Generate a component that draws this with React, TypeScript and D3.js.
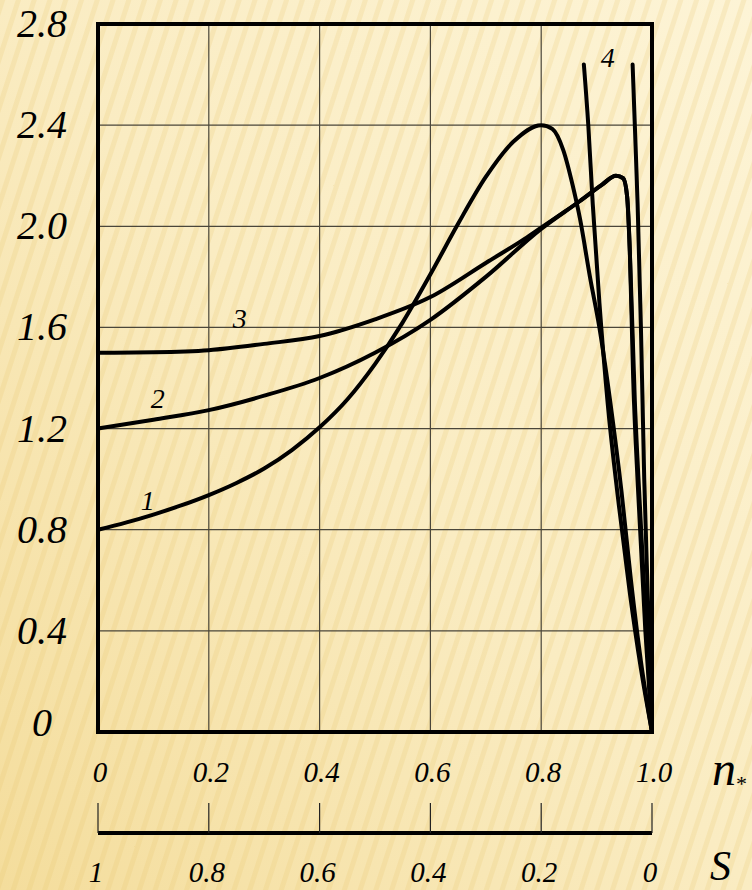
import { useEffect, useRef } from "react";
import * as d3 from "d3";

// n* axis ticks (top scale) and S axis labels (bottom scale, reversed)
const nTicks = [0, 0.2, 0.4, 0.6, 0.8, 1.0];
const nTickLabels = ["0", "0.2", "0.4", "0.6", "0.8", "1.0"];
const sTickLabels = ["1", "0.8", "0.6", "0.4", "0.2", "0"];
const yTicks = [0, 0.4, 0.8, 1.2, 1.6, 2.0, 2.4, 2.8];
const yTickLabels = ["0", "0.4", "0.8", "1.2", "1.6", "2.0", "2.4", "2.8"];

// curves: [n*, value]
const curve1 = [
  [0, 0.8], [0.05, 0.828], [0.1, 0.86], [0.15, 0.896], [0.2, 0.937],
  [0.25, 0.985], [0.3, 1.042], [0.35, 1.115], [0.4, 1.205], [0.45, 1.315],
  [0.5, 1.455], [0.55, 1.62], [0.6, 1.81], [0.65, 2.01], [0.7, 2.195],
  [0.75, 2.335], [0.8, 2.4], [0.82, 2.385], [0.84, 2.3], [0.857, 2.16],
  [0.87, 2.03], [0.888, 1.8], [0.905, 1.6], [0.925, 1.3], [0.945, 0.95],
  [0.962, 0.6], [0.98, 0.28], [1.0, 0],
];
const curve2 = [
  [0, 1.2], [0.1, 1.235], [0.2, 1.273], [0.3, 1.33], [0.4, 1.4],
  [0.5, 1.5], [0.6, 1.63], [0.7, 1.8], [0.8, 1.99], [0.87, 2.1],
  [0.91, 2.165], [0.935, 2.2], [0.948, 2.19], [0.955, 2.12], [0.96, 1.9],
  [0.969, 1.31], [0.978, 0.9], [0.99, 0.4], [1.0, 0],
];
const curve3 = [
  [0, 1.5], [0.1, 1.502], [0.2, 1.51], [0.3, 1.535], [0.4, 1.566],
  [0.5, 1.632], [0.6, 1.72], [0.7, 1.855], [0.77, 1.95], [0.8, 1.995],
  [0.87, 2.1], [0.91, 2.165], [0.935, 2.2], [0.948, 2.19], [0.955, 2.12],
  [0.96, 1.9], [0.966, 1.4], [0.975, 0.95], [0.988, 0.4], [1.0, 0],
];
const curve4a = [
  [0.877, 2.64], [0.885, 2.4], [0.893, 2.09], [0.905, 1.7], [0.92, 1.3],
  [0.94, 0.9], [0.96, 0.55], [0.98, 0.25], [1.0, 0],
];
const curve4b = [
  [0.965, 2.64], [0.969, 2.4], [0.974, 2.09], [0.98, 1.6], [0.986, 1.0],
  [0.993, 0.5], [1.0, 0],
];
const curves = [curve1, curve2, curve3, curve4a, curve4b];
const curveLabels = [
  { text: "1", n: 0.09, v: 0.917 },
  { text: "2", n: 0.108, v: 1.321 },
  { text: "3", n: 0.256, v: 1.637 },
  { text: "4", n: 0.92, v: 2.67 },
];

const FONT = "'Liberation Serif', 'Times New Roman', serif";

const Chart = () => {
  const ref = useRef(null);

  useEffect(() => {
    const svg = d3.select(ref.current).attr("width", 752).attr("height", 890);
    svg.selectAll("*").remove();

    const left = 98, right = 652, top = 24, bottom = 732;
    const x = d3.scaleLinear().domain([0, 1]).range([left, right]);
    const y = d3.scaleLinear().domain([0, 2.8]).range([bottom, top]);

    // background: cream gradient with slanted stripes
    const defs = svg.append("defs");
    const grad = defs
      .append("linearGradient")
      .attr("id", "bg")
      .attr("x1", "0")
      .attr("y1", "1")
      .attr("x2", "1")
      .attr("y2", "0");
    grad.append("stop").attr("offset", "0").attr("stop-color", "#f4dd9c");
    grad.append("stop").attr("offset", "0.5").attr("stop-color", "#faecc2");
    grad.append("stop").attr("offset", "1").attr("stop-color", "#fdf4d6");
    const pat = defs
      .append("pattern")
      .attr("id", "stripes")
      .attr("width", 15)
      .attr("height", 15)
      .attr("patternUnits", "userSpaceOnUse")
      .attr("patternTransform", "rotate(18)");
    pat
      .append("rect")
      .attr("width", 5)
      .attr("height", 15)
      .attr("fill", "#e6c26a")
      .attr("opacity", 0.2);

    svg.append("rect").attr("width", 752).attr("height", 890).attr("fill", "url(#bg)");
    svg.append("rect").attr("width", 752).attr("height", 890).attr("fill", "url(#stripes)");

    // grid
    const grid = svg.append("g").attr("stroke", "#4a463a").attr("stroke-width", 1.2);
    nTicks.slice(1, -1).forEach((t) => {
      grid.append("line").attr("x1", x(t)).attr("x2", x(t)).attr("y1", top).attr("y2", bottom);
    });
    yTicks.slice(1, -1).forEach((t) => {
      grid.append("line").attr("x1", left).attr("x2", right).attr("y1", y(t)).attr("y2", y(t));
    });

    // curves
    const line = d3
      .line()
      .x((d) => x(d[0]))
      .y((d) => y(d[1]))
      .curve(d3.curveMonotoneX);
    svg
      .append("g")
      .selectAll("path")
      .data(curves)
      .enter()
      .append("path")
      // @ts-ignore
      .attr("d", line)
      .attr("fill", "none")
      .attr("stroke", "#000")
      .attr("stroke-width", 4)
      .attr("stroke-linejoin", "round")
      .attr("stroke-linecap", "round");

    // frame
    svg
      .append("rect")
      .attr("x", left)
      .attr("y", top)
      .attr("width", right - left)
      .attr("height", bottom - top)
      .attr("fill", "none")
      .attr("stroke", "#000")
      .attr("stroke-width", 4);

    // y labels (the 0 sits a bit higher in the original)
    svg
      .append("g")
      .selectAll("text")
      .data(yTicks)
      .enter()
      .append("text")
      .attr("x", 42)
      .attr("y", (d) => y(d) + 13 - (d === 0 ? 9 : 0))
      .attr("text-anchor", "middle")
      .style("font-family", FONT)
      .style("font-style", "italic")
      .style("font-size", "40px")
      .text((d, i) => yTickLabels[i]);

    // n* labels
    svg
      .append("g")
      .selectAll("text")
      .data(nTicks)
      .enter()
      .append("text")
      .attr("x", (d) => x(d) + 2)
      .attr("y", 782)
      .attr("text-anchor", "middle")
      .style("font-family", FONT)
      .style("font-style", "italic")
      .style("font-size", "29px")
      .text((d, i) => nTickLabels[i]);

    const nLabel = svg
      .append("text")
      .attr("x", 712)
      .attr("y", 785)
      .style("font-family", FONT)
      .style("font-style", "italic")
      .style("font-size", "48px")
      .text("n");
    nLabel
      .append("tspan")
      .attr("dy", 6)
      .style("font-size", "22px")
      .style("font-style", "normal")
      .text("*");

    // S axis
    const sAxis = svg.append("g");
    sAxis
      .append("line")
      .attr("x1", left)
      .attr("x2", right)
      .attr("y1", 833)
      .attr("y2", 833)
      .attr("stroke", "#000")
      .attr("stroke-width", 4);
    nTicks.forEach((t) => {
      sAxis
        .append("line")
        .attr("x1", x(t))
        .attr("x2", x(t))
        .attr("y1", 803)
        .attr("y2", 833)
        .attr("stroke", "#222")
        .attr("stroke-width", 1.2);
    });
    sAxis
      .selectAll("text")
      .data(nTicks)
      .enter()
      .append("text")
      .attr("x", (d) => x(d) - 2)
      .attr("y", 882)
      .attr("text-anchor", "middle")
      .style("font-family", FONT)
      .style("font-style", "italic")
      .style("font-size", "29px")
      .text((d, i) => sTickLabels[i]);
    svg
      .append("text")
      .attr("x", 710)
      .attr("y", 880)
      .style("font-family", FONT)
      .style("font-style", "italic")
      .style("font-size", "42px")
      .text("S");

    // curve numbers
    svg
      .append("g")
      .selectAll("text")
      .data(curveLabels)
      .enter()
      .append("text")
      .attr("x", (d) => x(d.n))
      .attr("y", (d) => y(d.v) + 10)
      .attr("text-anchor", "middle")
      .style("font-family", FONT)
      .style("font-style", "italic")
      .style("font-size", "28px")
      .text((d) => d.text);
  }, []);

  return (
    <svg ref={ref} style={{ position: "absolute", left: 0, top: 0 }}></svg>
  );
};

export default function App() {
  return <Chart />;
}
